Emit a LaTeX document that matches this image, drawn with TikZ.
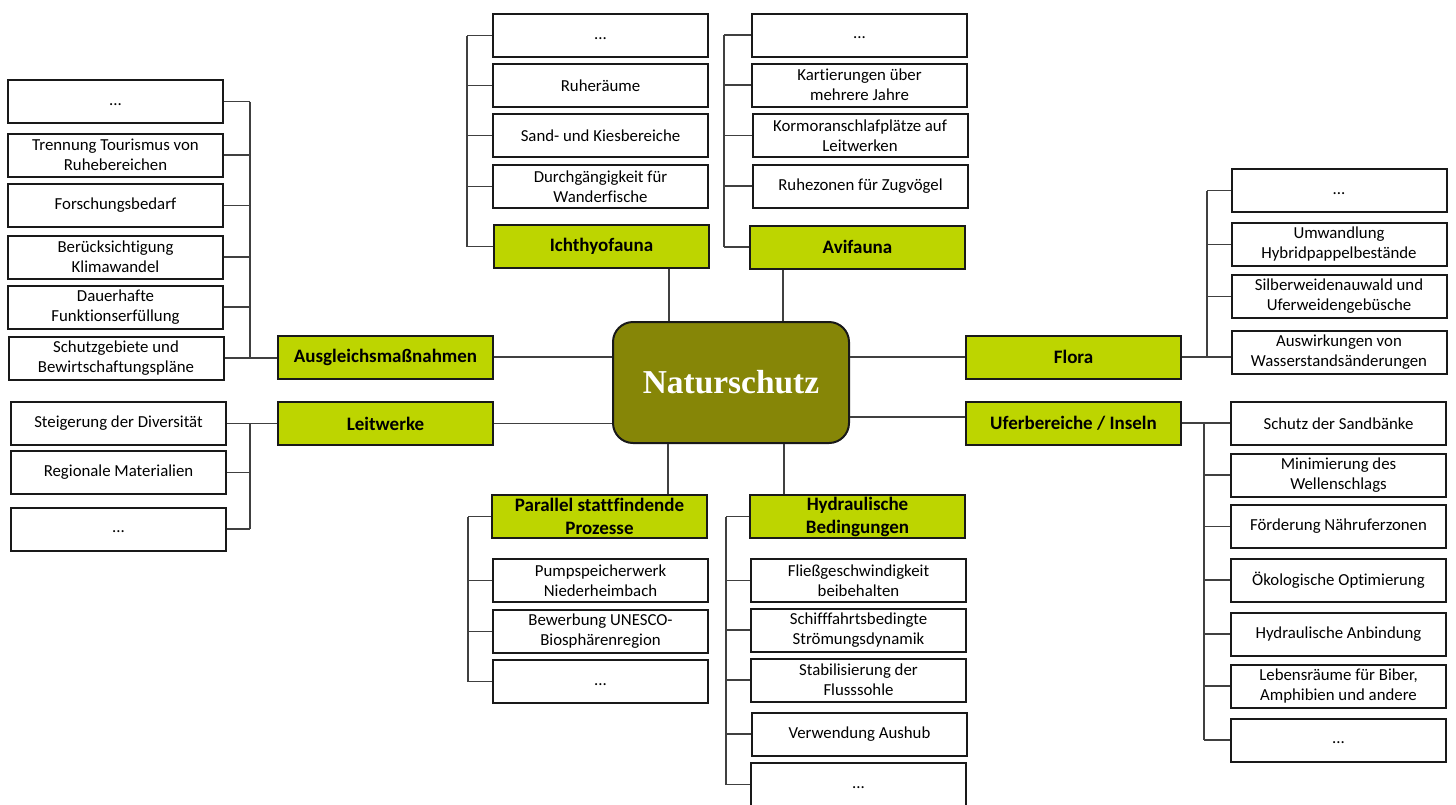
\documentclass[tikz,border=0pt]{standalone}
\usepackage{fontspec}
\setmainfont[Ligatures={CommonOff,ContextualOff}]{Carlito}
\newfontfamily\headserif{Liberation Serif}
\definecolor{catgreen}{RGB}{189,213,0}
\definecolor{natolive}{RGB}{134,134,7}
\newcommand{\leaffont}{\fontsize{8.4}{10}\selectfont}
\newcommand{\catfont}{\fontsize{9.5}{11.5}\selectfont\bfseries}
\newcommand{\dotstxt}{\vphantom{Ag}...}
\tikzset{
  leaf/.style={draw=black!90, line width=1pt, fill=white, minimum width=107.5pt, minimum height=21.5pt,
    inner sep=0.5pt, align=center, font=\leaffont},
  cat/.style={leaf, fill=catgreen, font=\catfont},
  hub/.style={draw=black!90, line width=1pt, fill=natolive, rounded corners=10pt, minimum width=118pt,
    minimum height=60.5pt, text=white, font=\headserif\fontsize{16.7}{20}\selectfont\bfseries},
  conn/.style={draw=black!75, line width=0.55pt}
}
\begin{document}
\begin{tikzpicture}[x=0.5pt,y=-0.5pt]
\useasboundingbox (0,0) rectangle (1456,804);
% hub
\node[hub] (nat) at (731,382.5) {Naturschutz};
% categories
\node[cat] (ausg) at (385.5,357) {Ausgleichsmaßnahmen};
\node[cat] (leit) at (385.5,423.5) {Leitwerke};
\node[cat] (ichth) at (601.5,246.5) {Ichthyofauna};
\node[cat] (avi) at (857.5,247) {Avifauna};
\node[cat] (flora) at (1073.5,357) {Flora};
\node[cat] (ufer) at (1073.5,423) {Uferbereiche / Inseln};
\node[cat] (par) at (599.5,516.5) {Parallel stattfindende\\Prozesse};
\node[cat] (hyd) at (857.5,516.5) {Hydraulische\\Bedingungen};
% Ausgleich children
\node[leaf] (a0) at (115.5,101.5) {\dotstxt};
\node[leaf] (a1) at (115.5,155) {Trennung Tourismus von\\Ruhebereichen};
\node[leaf] (a2) at (115.5,205.5) {Forschungsbedarf};
\node[leaf] (a3) at (115.5,257) {Berücksichtigung\\Klimawandel};
\node[leaf] (a4) at (115.5,307) {Dauerhafte\\Funktionserfüllung};
\node[leaf] (a5) at (116,358) {Schutzgebiete und\\Bewirtschaftungspläne};
% Leitwerke children
\node[leaf] (l0) at (118.5,423.5) {Steigerung der Diversität};
\node[leaf] (l1) at (118.5,472.5) {Regionale Materialien};
\node[leaf] (l2) at (118.5,529) {\dotstxt};
% Ichthyofauna children
\node[leaf] (i0) at (600.5,35.5) {\dotstxt};
\node[leaf] (i1) at (600.5,85.5) {Ruheräume};
\node[leaf] (i2) at (600.5,135.5) {Sand- und Kiesbereiche};
\node[leaf] (i3) at (600.5,186.5) {Durchgängigkeit für\\Wanderfische};
% Avifauna children
\node[leaf] (v0) at (859.5,35) {\dotstxt};
\node[leaf] (v1) at (859.5,85) {Kartierungen über\\mehrere Jahre};
\node[leaf] (v2) at (860,135.5) {Kormoranschlafplätze auf\\Leitwerken};
\node[leaf] (v3) at (860.5,186) {Ruhezonen für Zugvögel};
% Flora children
\node[leaf] (f0) at (1339,190.5) {\dotstxt};
\node[leaf] (f1) at (1339,244.5) {Umwandlung\\Hybridpappelbestände};
\node[leaf] (f2) at (1339,296.5) {Silberweidenauwald und\\Uferweidengebüsche};
\node[leaf] (f3) at (1339,352) {Auswirkungen von\\Wasserstandsänderungen};
% Ufer children
\node[leaf] (u0) at (1338.5,423.5) {Schutz der Sandbänke};
\node[leaf] (u1) at (1338.5,475) {Minimierung des\\Wellenschlags};
\node[leaf] (u2) at (1338.5,526.5) {Förderung Nähruferzonen};
\node[leaf] (u3) at (1338.5,580) {Ökologische Optimierung};
\node[leaf] (u4) at (1338.5,634) {Hydraulische Anbindung};
\node[leaf] (u5) at (1338.5,686) {Lebensräume für Biber,\\Amphibien und andere};
\node[leaf] (u6) at (1338.5,740) {\dotstxt};
% Parallel children
\node[leaf] (p0) at (600.5,580.5) {Pumpspeicherwerk\\Niederheimbach};
\node[leaf] (p1) at (600.5,631.5) {Bewerbung UNESCO-\\Biosphärenregion};
\node[leaf] (p2) at (600.5,681.5) {\dotstxt};
% Hydraulische children
\node[leaf] (h0) at (858.5,580.5) {Fließgeschwindigkeit\\beibehalten};
\node[leaf] (h1) at (858.5,630) {Schifffahrtsbedingte\\Strömungsdynamik};
\node[leaf] (h2) at (858.5,680) {Stabilisierung der\\Flusssohle};
\node[leaf] (h3) at (859.5,734) {Verwendung Aushub};
\node[leaf] (h4) at (858.5,784.5) {\dotstxt};
% bus coordinates
\coordinate (abus) at (250,0);
\coordinate (lbus) at (250,0);
\coordinate (ibus) at (467,0);
\coordinate (vbus) at (724,0);
\coordinate (fbus) at (1207,0);
\coordinate (ubus) at (1204,0);
\coordinate (pbus) at (468,0);
\coordinate (hbus) at (726,0);
\coordinate (ix) at (669,0);
\coordinate (vx) at (783,0);
\coordinate (px) at (668,0);
\coordinate (hx) at (784,0);
% hub connections
\draw[conn] (ausg.east) -- (ausg.east -| nat.west);
\draw[conn] (leit.east) -- (leit.east -| nat.west);
\draw[conn] (flora.west) -- (flora.west -| nat.east);
\draw[conn] ([yshift=3pt]ufer.west) -- ([yshift=3pt]ufer.west -| nat.east);
\draw[conn] (ix |- ichth.south) -- (ix |- nat.north);
\draw[conn] (vx |- avi.south) -- (vx |- nat.north);
\draw[conn] (px |- par.north) -- (px |- nat.south);
\draw[conn] (hx |- hyd.north) -- (hx |- nat.south);
% Ausgleich
\draw[conn] (abus |- a0.east) -- (abus |- a5.east);
\foreach \n in {a0,a1,a2,a3,a4} \draw[conn] (\n.east) -- (abus |- \n.east);
\draw[conn] (a5.east) -- (a5.east -| ausg.west);
% Leitwerke
\draw[conn] (lbus |- l0.east) -- (lbus |- l2.east);
\draw[conn] (l0.east) -- (l0.east -| leit.west);
\foreach \n in {l1,l2} \draw[conn] (\n.east) -- (lbus |- \n.east);
% Ichthyofauna
\draw[conn] (ibus |- i0.west) -- (ibus |- ichth.west);
\foreach \n in {i0,i1,i2,i3,ichth} \draw[conn] (\n.west) -- (ibus |- \n.west);
% Avifauna
\draw[conn] (vbus |- v0.west) -- (vbus |- avi.west);
\foreach \n in {v0,v1,v2,v3,avi} \draw[conn] (\n.west) -- (vbus |- \n.west);
% Flora
\draw[conn] (fbus |- f0.west) -- (fbus |- flora.east);
\foreach \n in {f0,f1,f2} \draw[conn] (\n.west) -- (fbus |- \n.west);
\draw[conn] (flora.east) -- (flora.east -| f3.west);
% Ufer
\draw[conn] (ubus |- u0.west) -- (ubus |- u6.west);
\draw[conn] (ufer.east) -- (ufer.east -| u0.west);
\foreach \n in {u1,u2,u3,u4,u5,u6} \draw[conn] (\n.west) -- (ubus |- \n.west);
% Parallel
\draw[conn] (pbus |- par.west) -- (pbus |- p2.west);
\foreach \n in {par,p0,p1,p2} \draw[conn] (\n.west) -- (pbus |- \n.west);
% Hydraulische
\draw[conn] (hbus |- hyd.west) -- (hbus |- h4.west);
\foreach \n in {hyd,h0,h1,h2,h3,h4} \draw[conn] (\n.west) -- (hbus |- \n.west);
\end{tikzpicture}
\end{document}
